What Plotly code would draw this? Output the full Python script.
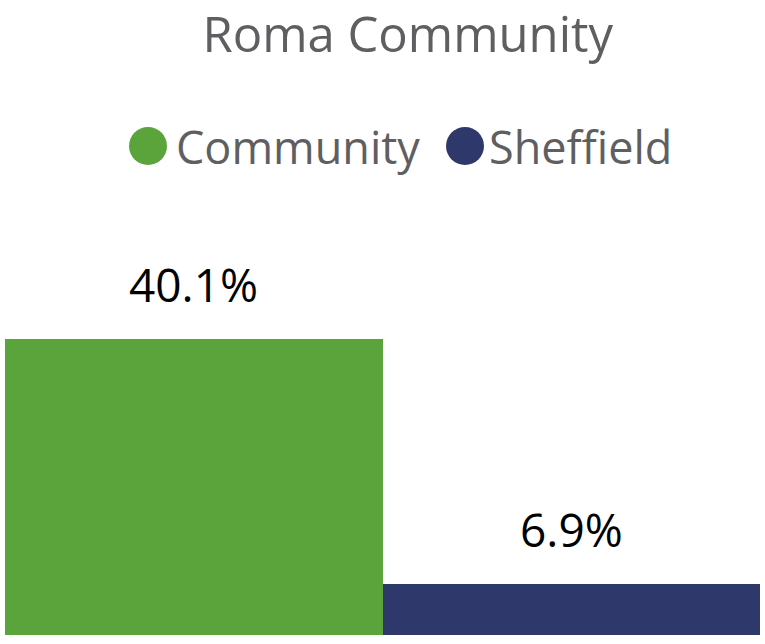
import plotly.graph_objects as go

categories = ["Community", "Sheffield"]
values = [40.1, 6.9]
labels = ["40.1%", "6.9%"]
colors = ["#5BA33B", "#2E386B"]
title_text = "Roma Community"

W, H = 765, 644
ml, mr, mt, mb = 5, 5, 270, 9
plot_h = H - mt - mb

fig = go.Figure()
fig.add_trace(go.Bar(x=categories, y=values, marker=dict(color=colors, line=dict(width=0)),
                     showlegend=False, hoverinfo="x+y"))

for c, v, t in zip(categories, values, labels):
    fig.add_annotation(x=c, y=v, text=t, showarrow=False, yanchor="bottom", yshift=22,
                       font=dict(family="Open Sans", size=46, color="#000000"))

def py(p):
    return (H - mb - p) / plot_h

# manual legend with big circles
leg_y = py(146)
leg_items = [(148, 174, categories[0], colors[0]), (465, 487, categories[1], colors[1])]
for cx, tx, name, col in leg_items:
    fig.add_shape(type="circle", xref="paper", yref="paper", xsizemode="pixel", ysizemode="pixel",
                  xanchor=(cx - ml) / (W - ml - mr), yanchor=leg_y, x0=-19, x1=19, y0=-19, y1=19,
                  fillcolor=col, line=dict(width=0))
    fig.add_annotation(xref="paper", yref="paper", x=(tx - ml) / (W - ml - mr), y=leg_y,
                       xanchor="left", yanchor="middle", text=name, showarrow=False,
                       font=dict(family="Open Sans", size=45, color="#5F5F62"))

fig.update_layout(
    width=W, height=H,
    margin=dict(l=ml, r=mr, t=mt, b=mb),
    paper_bgcolor="white", plot_bgcolor="white",
    bargap=0,
    title=dict(text=title_text, x=0.533, xanchor="center", y=1 - 35 / H, yanchor="middle",
               yref="container", font=dict(family="Open Sans", size=49, color="#5F5F62")),
    xaxis=dict(visible=False, range=[-0.5, 1.5]),
    yaxis=dict(visible=False, range=[0, plot_h / 7.38]),
    showlegend=False,
)

fig.write_html("out.html", config={"displayModeBar": False},
               post_script="document.body.style.margin='0';document.body.style.overflow='hidden';")
